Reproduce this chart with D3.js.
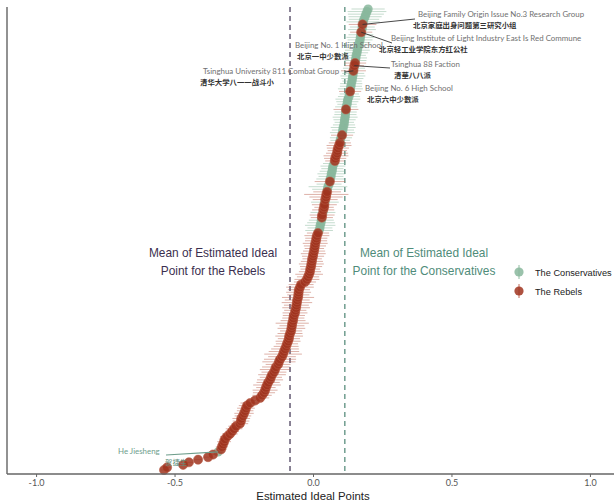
<!DOCTYPE html>
<html lang="en">

<head>
    <title>Estimated Ideal Points</title>
    <script src="https://d3js.org/d3.v7.min.js"></script>
    <style>
        body {
            margin: 0;
            background: white;
        }
    </style>
</head>

<body>
    <div id="my-graph"></div>

    <script>

        // estimated ideal points, sorted from lowest to highest
        const estimates = [
            -0.538, -0.527, -0.469, -0.448, -0.415, -0.379, -0.361, -0.343, -0.332, -0.329,
            -0.325, -0.321, -0.318, -0.310, -0.300, -0.292, -0.285, -0.278, -0.264, -0.260,
            -0.259, -0.253, -0.249, -0.245, -0.242, -0.238, -0.227, -0.209, -0.191, -0.184,
            -0.177, -0.173, -0.170, -0.166, -0.162, -0.155, -0.152, -0.148, -0.141, -0.137,
            -0.134, -0.126, -0.123, -0.119, -0.112, -0.108, -0.105, -0.101, -0.097, -0.094,
            -0.090, -0.087, -0.086, -0.083, -0.079, -0.078, -0.076, -0.075, -0.072, -0.071,
            -0.069, -0.065, -0.064, -0.061, -0.060, -0.058, -0.057, -0.054, -0.053, -0.052,
            -0.051, -0.047, -0.043, -0.029, -0.022, -0.018, -0.014, -0.011, -0.010, -0.007,
            -0.006, -0.004, -0.003, 0.000, 0.001, 0.004, 0.005, 0.007, 0.008, 0.011,
            0.012, 0.014, 0.018, 0.022, 0.025, 0.026, 0.029, 0.030, 0.032, 0.033,
            0.036, 0.037, 0.040, 0.041, 0.043, 0.044, 0.047, 0.048, 0.051, 0.052,
            0.054, 0.058, 0.061, 0.062, 0.065, 0.066, 0.069, 0.070, 0.072, 0.076,
            0.079, 0.080, 0.083, 0.087, 0.088, 0.090, 0.094, 0.097, 0.098, 0.101,
            0.105, 0.106, 0.108, 0.109, 0.112, 0.113, 0.114, 0.116, 0.117, 0.118,
            0.119, 0.120, 0.123, 0.124, 0.126, 0.130, 0.131, 0.134, 0.135, 0.137,
            0.138, 0.141, 0.142, 0.144, 0.145, 0.146, 0.148, 0.149, 0.152, 0.153,
            0.155, 0.156, 0.159, 0.160, 0.162, 0.166, 0.167, 0.170, 0.171, 0.173,
            0.174, 0.177, 0.178, 0.179, 0.181, 0.184, 0.188, 0.191, 0.195, 0.199
        ];

        // half width of each interval
        const errors = [
            0.012, 0.012, 0.015, 0.015, 0.015, 0.018, 0.018, 0.020, 0.020, 0.022,
            0.020, 0.025, 0.022, 0.025, 0.028, 0.025, 0.030, 0.028, 0.030, 0.030,
            0.032, 0.030, 0.035, 0.030, 0.032, 0.030, 0.035, 0.030, 0.033, 0.035,
            0.040, 0.045, 0.035, 0.050, 0.042, 0.047, 0.040, 0.050, 0.045, 0.055,
            0.050, 0.045, 0.060, 0.058, 0.050, 0.068, 0.055, 0.050, 0.045, 0.040,
            0.045, 0.040, 0.050, 0.045, 0.040, 0.050, 0.045, 0.060, 0.045, 0.040,
            0.040, 0.045, 0.040, 0.050, 0.045, 0.055, 0.045, 0.058, 0.040, 0.045,
            0.040, 0.050, 0.045, 0.040, 0.045, 0.040, 0.050, 0.040, 0.035, 0.040,
            0.045, 0.040, 0.035, 0.040, 0.045, 0.040, 0.035, 0.040, 0.045, 0.040,
            0.040, 0.045, 0.040, 0.050, 0.045, 0.055, 0.050, 0.045, 0.040, 0.045,
            0.045, 0.040, 0.035, 0.045, 0.050, 0.045, 0.060, 0.080, 0.050, 0.055,
            0.070, 0.045, 0.055, 0.050, 0.045, 0.050, 0.045, 0.040, 0.045, 0.040,
            0.035, 0.040, 0.045, 0.040, 0.035, 0.040, 0.045, 0.040, 0.035, 0.040,
            0.040, 0.045, 0.040, 0.045, 0.040, 0.035, 0.040, 0.045, 0.040, 0.040,
            0.045, 0.040, 0.035, 0.040, 0.045, 0.040, 0.035, 0.040, 0.045, 0.040,
            0.040, 0.035, 0.040, 0.045, 0.040, 0.045, 0.040, 0.035, 0.040, 0.040,
            0.040, 0.035, 0.040, 0.045, 0.040, 0.045, 0.040, 0.045, 0.050, 0.045,
            0.040, 0.050, 0.045, 0.050, 0.060, 0.055, 0.060, 0.065, 0.070, 0.060
        ];

        // C = The Conservatives, R = The Rebels
        const groups = [
            'R', 'R', 'R', 'R', 'R', 'R', 'R', 'C', 'R', 'R',
            'R', 'R', 'R', 'R', 'R', 'R', 'R', 'R', 'R', 'R',
            'R', 'R', 'R', 'R', 'R', 'R', 'R', 'R', 'R', 'R',
            'R', 'R', 'R', 'R', 'R', 'R', 'R', 'R', 'R', 'R',
            'R', 'R', 'R', 'R', 'R', 'R', 'R', 'R', 'R', 'R',
            'R', 'R', 'R', 'R', 'R', 'R', 'R', 'R', 'R', 'R',
            'R', 'R', 'R', 'R', 'R', 'R', 'R', 'R', 'R', 'R',
            'R', 'R', 'R', 'R', 'R', 'R', 'R', 'R', 'R', 'R',
            'R', 'R', 'R', 'R', 'R', 'R', 'R', 'R', 'R', 'R',
            'R', 'R', 'R', 'C', 'C', 'C', 'C', 'C', 'R', 'R',
            'C', 'R', 'R', 'R', 'C', 'R', 'R', 'R', 'R', 'C',
            'C', 'C', 'R', 'C', 'C', 'C', 'C', 'C', 'C', 'C',
            'R', 'R', 'R', 'R', 'R', 'R', 'R', 'R', 'C', 'C',
            'R', 'C', 'C', 'C', 'C', 'C', 'C', 'C', 'C', 'C',
            'R', 'C', 'C', 'C', 'C', 'C', 'C', 'R', 'C', 'C',
            'C', 'C', 'C', 'C', 'C', 'R', 'C', 'R', 'R', 'C',
            'C', 'C', 'C', 'C', 'C', 'C', 'C', 'C', 'C', 'C',
            'R', 'C', 'C', 'R', 'C', 'C', 'C', 'C', 'C', 'C'
        ];

        const groupMeans = { C: 0.115, R: -0.083 };
        const xTicks = [-1.0, -0.5, 0.0, 0.5, 1.0];
        const legendLabels = ['The Conservatives', 'The Rebels'];

        // labelled actors: rank index, english name, chinese name
        const labelIndex = [173, 170, 158, 157, 155, 147, 7];
        const labelEn = [
            'Beijing Family Origin Issue No.3 Research Group',
            'Beijing Institute of Light Industry East Is Red Commune',
            'Beijing No. 1 High School',
            'Tsinghua 88 Faction',
            'Tsinghua University 811 Combat Group',
            'Beijing No. 6 High School',
            'He Jiesheng'
        ];
        const labelZh = [
            '北京家庭出身问题第三研究小组',
            '北京轻工业学院东方红公社',
            '北京一中少數派',
            '清華八八派',
            '清华大学八一一战斗小',
            '北京六中少數派',
            '贺捷生'
        ];

        // where each label sits: [en x, en y, zh x, zh y, segment end x, segment end y]
        const labelPos = [
            [418, 17, 413, 28, 415, 19],
            [391, 41, 379, 52, 392, 43],
            [295, 48, 297, 59, null, null],
            [391, 67, 394, 78, 390, 68],
            [203, 74, 200, 85, 345, 72],
            [365, 91, 367, 102, null, null],
            [118, 454, 165, 465, 166, 455]
        ];

        const colors = { C: '#88b79c', R: '#a0341e' };
        const barColors = { C: '#8fbca1', R: '#c06a58' };

        const svgWidth = 614, svgHeight = 502;
        const panelLeft = 7, panelTop = 7, panelBottom = 474;

        const svg = d3.select('#my-graph')
            .append('svg')
            .attr('width', svgWidth)
            .attr('height', svgHeight)
            .style('display', 'block');

        const scaleX = d3.scaleLinear()
            .domain([-1.105, 1.105])
            .range([panelLeft, 619]);

        const scaleY = d3.scaleLinear()
            .domain([0, estimates.length - 1])
            .range([470, 9]);

        const data = estimates.map((v, i) => ({
            rank: i, est: v, se: errors[i], group: groups[i]
        }));

        // mean lines
        const meanColors = { R: '#3b2f4f', C: '#4c8473' };
        ['R', 'C'].forEach(g => {
            svg.append('line')
                .attr('x1', scaleX(groupMeans[g]))
                .attr('x2', scaleX(groupMeans[g]))
                .attr('y1', panelTop)
                .attr('y2', panelBottom)
                .attr('stroke', meanColors[g])
                .attr('stroke-width', 1.2)
                .attr('stroke-dasharray', '5,4');
        });

        // points, conservatives first then rebels on top
        ['C', 'R'].forEach(g => {
            const sub = data.filter(d => d.group === g);
            const layer = svg.append('g');
            layer.selectAll('line')
                .data(sub)
                .join('line')
                .attr('x1', d => scaleX(d.est - d.se))
                .attr('x2', d => scaleX(d.est + d.se))
                .attr('y1', d => scaleY(d.rank))
                .attr('y2', d => scaleY(d.rank))
                .attr('stroke', barColors[g])
                .attr('stroke-opacity', 0.65)
                .attr('stroke-width', 0.8);
            layer.selectAll('circle')
                .data(sub)
                .join('circle')
                .attr('cx', d => scaleX(d.est))
                .attr('cy', d => scaleY(d.rank))
                .attr('r', 4.6)
                .attr('fill', colors[g])
                .attr('fill-opacity', 0.85)
                .attr('stroke', g === 'R' ? '#b85a44' : 'none')
                .attr('stroke-opacity', 0.7)
                .attr('stroke-width', 0.8);
        });

        // label segments and texts
        const labelG = svg.append('g');
        labelIndex.forEach((idx, k) => {
            const p = labelPos[k];
            const isHe = k === labelIndex.length - 1;
            if (p[4] !== null) {
                labelG.append('line')
                    .attr('x1', scaleX(estimates[idx]))
                    .attr('y1', scaleY(idx))
                    .attr('x2', p[4])
                    .attr('y2', p[5])
                    .attr('stroke', isHe ? '#6f9e8c' : '#333')
                    .attr('stroke-width', isHe ? 1.2 : 0.9);
            }
            labelG.append('text')
                .attr('x', p[0])
                .attr('y', p[1])
                .attr('font-family', 'Lato, sans-serif')
                .attr('font-size', '7.9px')
                .attr('fill', isHe ? '#6f9e8c' : '#707070')
                .text(labelEn[k]);
            labelG.append('text')
                .attr('x', p[2])
                .attr('y', p[3])
                .attr('font-family', '"Noto Sans CJK SC", sans-serif')
                .attr('font-size', '7.4px')
                .attr('font-weight', isHe ? 'normal' : 'bold')
                .attr('fill', isHe ? '#5f8f7d' : '#333')
                .text(labelZh[k]);
        });

        // mean annotations
        const noteG = svg.append('g')
            .attr('font-family', '"Liberation Sans", Arial, sans-serif')
            .attr('font-size', '11.9px')
            .attr('text-anchor', 'middle');
        [['Mean of Estimated Ideal', 'Point for the Rebels', 213, meanColors.R],
         ['Mean of Estimated Ideal', 'Point for the Conservatives', 424, '#4f8c7a']]
            .forEach(n => {
                noteG.append('text').attr('x', n[2]).attr('y', 257).attr('fill', n[3]).text(n[0]);
                noteG.append('text').attr('x', n[2]).attr('y', 275).attr('fill', n[3]).text(n[1]);
            });

        // axes
        svg.append('line')
            .attr('x1', panelLeft).attr('x2', panelLeft)
            .attr('y1', panelTop).attr('y2', panelBottom)
            .attr('stroke', '#777').attr('stroke-width', 1.6);

        const xAxis = d3.axisBottom(scaleX)
            .tickValues(xTicks)
            .tickFormat(d3.format('.1f'))
            .tickSize(3)
            .tickSizeOuter(0);

        const axisG = svg.append('g')
            .attr('transform', 'translate(0,' + panelBottom + ')')
            .call(xAxis);
        axisG.select('.domain')
            .attr('d', 'M' + panelLeft + ',0H' + svgWidth)
            .attr('stroke', '#666')
            .attr('stroke-width', 1.4);
        axisG.selectAll('.tick line').attr('stroke', '#666');
        axisG.selectAll('.tick text')
            .attr('font-family', 'Lato, sans-serif')
            .attr('font-size', '9px')
            .attr('fill', '#555')
            .attr('y', 5)
            .attr('dy', '0.8em')
            .text(d => d3.format('.1f')(d).replace('−', '-'));

        svg.append('text')
            .attr('x', 313)
            .attr('y', 500)
            .attr('text-anchor', 'middle')
            .attr('font-family', '"Liberation Sans", Arial, sans-serif')
            .attr('font-size', '11.4px')
            .attr('fill', '#222')
            .text('Estimated Ideal Points');

        // legend
        const legend = svg.append('g');
        legendLabels.forEach((lab, i) => {
            const g = i === 0 ? 'C' : 'R';
            const y = 272 + i * 19;
            legend.append('line')
                .attr('x1', 519).attr('x2', 519)
                .attr('y1', y - 7).attr('y2', y + 7)
                .attr('stroke', barColors[g]).attr('stroke-width', 1);
            legend.append('circle')
                .attr('cx', 519).attr('cy', y).attr('r', 4.6)
                .attr('fill', colors[g]).attr('fill-opacity', 0.85);
            legend.append('text')
                .attr('x', 535).attr('y', y + 3.5)
                .attr('font-family', '"Liberation Sans", Arial, sans-serif')
                .attr('font-size', '9.2px')
                .attr('fill', '#222')
                .text(lab);
        });

    </script>
</body>

</html>
